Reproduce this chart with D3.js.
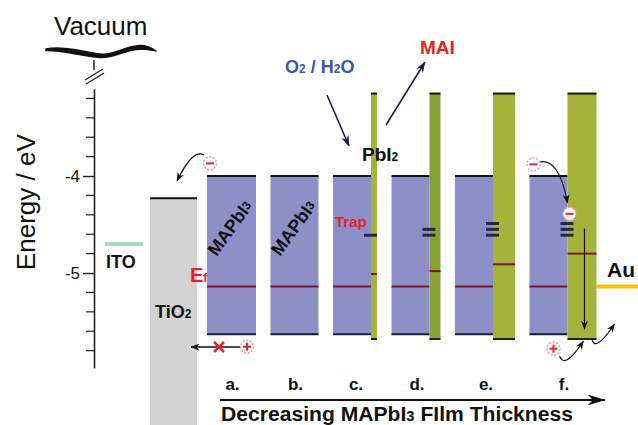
<!DOCTYPE html>
<html>
<head>
<meta charset="utf-8">
<script src="https://cdn.jsdelivr.net/npm/d3@7"></script>
<style>
  html, body { margin: 0; padding: 0; background: #fff; }
  svg { display: block; }
  text { font-family: "Liberation Sans", Arial, Helvetica, sans-serif; }
</style>
</head>
<body>
<svg id="chart" width="638" height="425"></svg>
<script>
// ---- energy levels (eV vs. vacuum) and film composition per stage ----
const panels = ["a.", "b.", "c.", "d.", "e.", "f."];
const mapbi3Thickness = [4.9, 4.8, 3.8, 3.8, 3.8, 3.8];
const pbi2Thickness = [0, 0, 0.6, 1.1, 2.2, 2.9];
const pbi2Fermi = [null, null, -5.01, -4.98, -4.91, -4.80];
const trapCount = [0, 0, 1, 2, 3, 3];
const trapLevels = [-4.61, -4.55, -4.49];
const mapbi3CB = -4.0, mapbi3VB = -5.63, mapbi3Fermi = -5.14;
const pbi2CB = -3.15, pbi2VB = -5.68;
const tio2CB = -4.23, itoLevel = -4.70, auLevel = -5.14;
const majorTicks = [-4, -5];
const majorTickLabels = ["-4", "-5"];
const minorTicks = [-3.2, -3.4, -3.6, -3.8, -4.2, -4.4, -4.6, -4.8, -5.2, -5.4, -5.6, -5.8];

// ---- colours ----
const PURPLE = "#8d8fc7", GREEN = "#a3b33b", GREEN_DARK = "#8b9f3b";
const GRAY = "#d3d3d3", FERMI = "#7a1830", NAVY = "#1c1c48", RED = "#e5232a";

const svg = d3.select("#chart");
const y = d3.scaleLinear().domain([-3.1, -5.98]).range([88.7, 368.1]);
const w = d3.scaleLinear().domain([0, 1]).range([0, 10]);

// arrowhead markers
const defs = svg.append("defs");
function marker(id, color, len, wid) {
  defs.append("marker").attr("id", id)
    .attr("viewBox", `0 0 ${len} ${wid}`).attr("markerUnits", "userSpaceOnUse")
    .attr("markerWidth", len).attr("markerHeight", wid)
    .attr("refX", len - 0.5).attr("refY", wid / 2).attr("orient", "auto")
    .append("path").attr("d", `M0,0 L${len},${wid / 2} L0,${wid} L${len * 0.3},${wid / 2} Z`)
    .attr("fill", color);
}
marker("arNavy", NAVY, 11, 8);
marker("arBlack", "#111", 9, 7);
marker("arBig", "#111", 18, 11);

// ---- vacuum label, wavy line, axis break ----
svg.append("text").attr("x", 54).attr("y", 35).attr("font-size", 26).attr("fill", "#111").text("Vacuum");
svg.append("path")
  .attr("d", "M46,49 C62,46 80,51 100,54 C114,56 124,46 140,45.5 C148,45.5 152,48 156,51 C150,50 146,49 140,49 C124,50 114,58.5 100,57.5 C80,56 62,50 46,50.5 Z")
  .attr("fill", "#111").attr("stroke", "#111").attr("stroke-width", 1.5).attr("stroke-linejoin", "round");
svg.append("line").attr("x1", 94).attr("x2", 94).attr("y1", 60).attr("y2", 70).attr("stroke", "#222").attr("stroke-width", 1.5);
[[0, 0], [1, 4]].forEach(([dx, dy]) => {
  svg.append("line").attr("x1", 85 + dx).attr("y1", 80 + dy).attr("x2", 103 + dx).attr("y2", 69 + dy)
    .attr("stroke", "#222").attr("stroke-width", 1.3);
});

// ---- energy axis ----
const axisG = svg.append("g").attr("transform", "translate(94,0)");
axisG.call(d3.axisLeft(y).tickValues(majorTicks).tickSize(11).tickSizeOuter(0).tickPadding(3)
  .tickFormat((d, i) => majorTickLabels[i]));
axisG.selectAll(".domain").attr("stroke", "#222").attr("stroke-width", 1.6);
axisG.selectAll(".tick line").attr("stroke", "#222").attr("stroke-width", 1.4);
axisG.selectAll(".tick text").attr("font-size", 17).attr("fill", "#111")
  .attr("font-family", "Liberation Sans, Arial, sans-serif");
axisG.selectAll(".minor").data(minorTicks).join("line").attr("class", "minor")
  .attr("x1", -8).attr("x2", 0).attr("y1", d => y(d)).attr("y2", d => y(d))
  .attr("stroke", "#222").attr("stroke-width", 1.2);
svg.append("text").attr("transform", `translate(35,${y(-4.27)}) rotate(-90)`)
  .attr("text-anchor", "middle").attr("font-size", 26).attr("fill", "#111").text("Energy / eV");

// ---- ITO ----
svg.append("line").attr("x1", 105).attr("x2", 143).attr("y1", y(itoLevel)).attr("y2", y(itoLevel))
  .attr("stroke", "#a6dbb4").attr("stroke-width", 4);
svg.append("text").attr("x", 106).attr("y", 268).attr("font-size", 18).attr("font-weight", "bold")
  .attr("fill", "#111").text("ITO");

// ---- TiO2 ----
svg.append("rect").attr("x", 150).attr("width", 47).attr("y", y(tio2CB)).attr("height", 425 - y(tio2CB)).attr("fill", GRAY);
svg.append("line").attr("x1", 150).attr("x2", 197).attr("y1", y(tio2CB)).attr("y2", y(tio2CB))
  .attr("stroke", "#111").attr("stroke-width", 2);
const tio2T = svg.append("text").attr("x", 155).attr("y", 318).attr("font-size", 18).attr("font-weight", "bold").attr("fill", "#111");
tio2T.append("tspan").text("TiO");
tio2T.append("tspan").attr("font-size", 12).text("2");

// ---- film stages ----
let cursor = 207;
const layout = panels.map((p, i) => {
  const pl = cursor, pi = pl + w(mapbi3Thickness[i]), pr = pi + w(pbi2Thickness[i]);
  cursor = pr + 14.5;
  return { p, i, pl, pi, pr };
});

const stage = svg.selectAll(".stage").data(layout).join("g").attr("class", "stage");
// MAPbI3 block
stage.append("rect").attr("x", d => d.pl).attr("width", d => d.pi - d.pl)
  .attr("y", y(mapbi3CB)).attr("height", y(mapbi3VB) - y(mapbi3CB)).attr("fill", PURPLE);
stage.append("line").attr("x1", d => d.pl).attr("x2", d => d.pi).attr("y1", y(mapbi3CB)).attr("y2", y(mapbi3CB))
  .attr("stroke", "#111").attr("stroke-width", 2);
stage.append("line").attr("x1", d => d.pl).attr("x2", d => d.pi).attr("y1", y(mapbi3VB)).attr("y2", y(mapbi3VB))
  .attr("stroke", "#1a1a40").attr("stroke-width", 2);
stage.append("line").attr("x1", d => d.pl).attr("x2", d => d.pi).attr("y1", y(mapbi3Fermi)).attr("y2", y(mapbi3Fermi))
  .attr("stroke", FERMI).attr("stroke-width", 2);

// PbI2 layer
const withPbI2 = stage.filter(d => pbi2Thickness[d.i] > 0);
withPbI2.append("rect").attr("x", d => d.pi).attr("width", d => d.pr - d.pi)
  .attr("y", y(pbi2CB)).attr("height", y(pbi2VB) - y(pbi2CB))
  .attr("fill", d => d.i === 3 ? GREEN_DARK : GREEN);
withPbI2.append("line").attr("x1", d => d.pi).attr("x2", d => d.pr).attr("y1", y(pbi2CB)).attr("y2", y(pbi2CB))
  .attr("stroke", "#111").attr("stroke-width", 2);
withPbI2.append("line").attr("x1", d => d.pi).attr("x2", d => d.pr).attr("y1", y(pbi2VB)).attr("y2", y(pbi2VB))
  .attr("stroke", "#222").attr("stroke-width", 2);
withPbI2.append("line").attr("x1", d => d.pi).attr("x2", d => d.pr)
  .attr("y1", d => y(pbi2Fermi[d.i])).attr("y2", d => y(pbi2Fermi[d.i]))
  .attr("stroke", FERMI).attr("stroke-width", 2);

// interface trap states
stage.each(function (d) {
  const levels = trapLevels.slice(0, trapCount[d.i]);
  d3.select(this).selectAll(".trap").data(levels).join("line").attr("class", "trap")
    .attr("x1", d.pi - 7).attr("x2", d.pi + 6).attr("y1", v => y(v)).attr("y2", v => y(v))
    .attr("stroke", "#26264a").attr("stroke-width", 3);
});

// stage letters
svg.selectAll(".stageLabel").data(layout).join("text").attr("class", "stageLabel")
  .attr("x", d => (d.pl + d.pr) / 2 + 1).attr("y", 390).attr("text-anchor", "middle")
  .attr("font-size", 17).attr("font-weight", "bold").attr("fill", "#111").text(d => d.p);

// rotated MAPbI3 labels in the first two blocks
layout.slice(0, 2).forEach(d => {
  const t = svg.append("text").attr("transform", `translate(${d.pl + 23},228) rotate(-54)`)
    .attr("text-anchor", "middle").attr("dominant-baseline", "central")
    .attr("font-size", 18).attr("font-weight", "bold").attr("fill", "#111");
  t.append("tspan").text("MAPbI");
  t.append("tspan").attr("font-size", 12).text("3");
});

// Fermi label
const ef = svg.append("text").attr("x", 190).attr("y", 282).attr("font-size", 20).attr("font-weight", "bold").attr("fill", RED);
ef.append("tspan").text("E");
ef.append("tspan").attr("font-size", 12).text("f");

// Au contact
const fSt = layout[5];
svg.append("line").attr("x1", fSt.pr).attr("x2", 638).attr("y1", y(auLevel)).attr("y2", y(auLevel))
  .attr("stroke", "#f6c200").attr("stroke-width", 4);
svg.append("text").attr("x", 607).attr("y", 277).attr("font-size", 21).attr("font-weight", "bold").attr("fill", "#111").text("Au");

// ---- carriers ----
function carrier(cx, cy, sign) {
  const g = svg.append("g");
  g.append("circle").attr("cx", cx).attr("cy", cy).attr("r", 6.5).attr("fill", "#fff")
    .attr("stroke", "#f29a9a").attr("stroke-width", 1.3).attr("stroke-dasharray", "2.2,1.4");
  g.append("line").attr("x1", cx - 4).attr("x2", cx + 4).attr("y1", cy).attr("y2", cy)
    .attr("stroke", RED).attr("stroke-width", 2);
  if (sign > 0) g.append("line").attr("x1", cx).attr("x2", cx).attr("y1", cy - 4).attr("y2", cy + 4)
    .attr("stroke", RED).attr("stroke-width", 2);
}
function curve(d, id, width) {
  svg.append("path").attr("d", d).attr("fill", "none").attr("stroke", "#111")
    .attr("stroke-width", width || 1.2).attr("marker-end", `url(#${id})`);
}

const aSt = layout[0];
// electron injection into TiO2
curve(`M${aSt.pl - 3},155 Q${aSt.pl - 14},148 ${aSt.pl - 30},181`, "arBlack");
carrier(aSt.pl + 3, y(-3.87), -1);
// blocked hole
svg.append("line").attr("x1", aSt.pl + 33).attr("x2", 191).attr("y1", 347).attr("y2", 347)
  .attr("stroke", "#111").attr("stroke-width", 1.5).attr("marker-end", "url(#arBlack)");
svg.append("path").attr("d", `M${aSt.pl + 7},342 l10,10 M${aSt.pl + 17},342 l-10,10`)
  .attr("stroke", RED).attr("stroke-width", 2.5).attr("fill", "none");
carrier(aSt.pl + 40, y(-5.76), 1);

// stage f: electron trapping, transport and hole extraction
curve(`M${fSt.pl + 10},162 Q${fSt.pl + 30},158 ${fSt.pi},203`, "arBlack");
carrier(fSt.pl + 4, y(-3.88), -1);
carrier(fSt.pi + 2, y(-4.39), -1);
svg.append("line").attr("x1", fSt.pi + 17).attr("x2", fSt.pi + 17).attr("y1", y(-4.54)).attr("y2", y(-5.58))
  .attr("stroke", "#111").attr("stroke-width", 1.2).attr("marker-end", "url(#arBlack)");
carrier(fSt.pi - 14, y(-5.78), 1);
curve(`M${fSt.pi - 8},356 Q${fSt.pi - 3},370 ${fSt.pi + 16},341`, "arBlack");
curve(`M${fSt.pi + 24},338 Q${fSt.pi + 27},354 ${fSt.pi + 47},324`, "arBlack");

// ---- degradation annotations around stage c ----
const cSt = layout[2];
const o2 = svg.append("text").attr("x", cSt.pi - 86).attr("y", 73).attr("font-size", 18).attr("font-weight", "bold")
  .attr("fill", "#3b56a8");
o2.append("tspan").text("O");
o2.append("tspan").attr("font-size", 12).text("2");
o2.append("tspan").text(" / H");
o2.append("tspan").attr("font-size", 12).text("2");
o2.append("tspan").text("O");
svg.append("line").attr("x1", cSt.pi - 44).attr("y1", 95).attr("x2", cSt.pi - 22).attr("y2", 146)
  .attr("stroke", NAVY).attr("stroke-width", 1.6).attr("marker-end", "url(#arNavy)");
svg.append("line").attr("x1", cSt.pr + 9).attr("y1", 125).attr("x2", cSt.pr + 48).attr("y2", 62)
  .attr("stroke", NAVY).attr("stroke-width", 1.6).attr("marker-end", "url(#arNavy)");
svg.append("text").attr("x", cSt.pr + 43).attr("y", 54).attr("font-size", 19).attr("font-weight", "bold")
  .attr("fill", RED).text("MAI");
const pb = svg.append("text").attr("x", cSt.pi - 9).attr("y", 161).attr("font-size", 19).attr("font-weight", "bold").attr("fill", "#111");
pb.append("tspan").text("PbI");
pb.append("tspan").attr("font-size", 12).text("2");
svg.append("text").attr("x", cSt.pl + 2).attr("y", 227).attr("font-size", 15).attr("font-weight", "bold")
  .attr("fill", RED).text("Trap");

// ---- thickness arrow ----
svg.append("line").attr("x1", 220).attr("x2", 605).attr("y1", 400).attr("y2", 400)
  .attr("stroke", "#111").attr("stroke-width", 2).attr("marker-end", "url(#arBig)");
const bottom = svg.append("text").attr("x", 221).attr("y", 421).attr("font-size", 20).attr("font-weight", "bold")
  .attr("fill", "#111").attr("textLength", 352).attr("lengthAdjust", "spacingAndGlyphs");
bottom.append("tspan").text("Decreasing MAPbI");
bottom.append("tspan").attr("font-size", 14).text("3");
bottom.append("tspan").text(" FIlm Thickness");
</script>
</body>
</html>
